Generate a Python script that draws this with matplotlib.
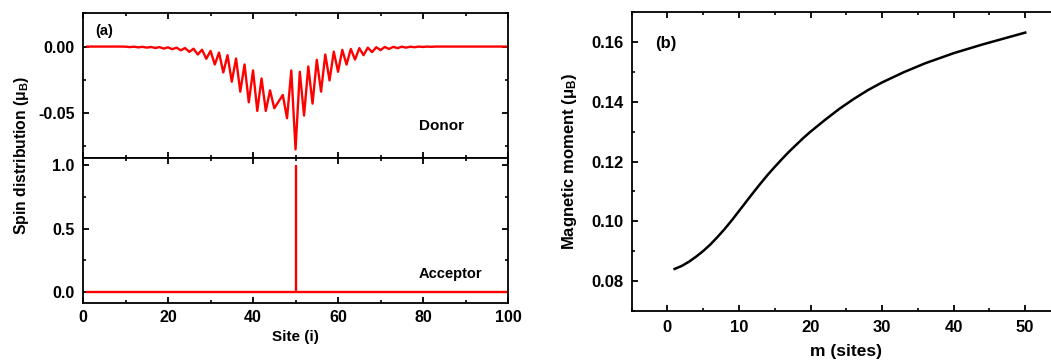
"""
plot.py

Spin distribution (donor / acceptor) and magnetic moment vs. m
"""

import numpy as np
import matplotlib
matplotlib.use("Agg")
import matplotlib.pyplot as plt
from matplotlib.ticker import MultipleLocator


# ==========================
# 1. Data
# ==========================

SITES = list(range(1, 101))

DONOR_SPIN = [
    0.0, 0.0, 0.0, 0.0, 0.0, 0.0, 0.0, 0.0, 0.0, -0.0001,
    -0.0004, -0.0001, -0.0006, -0.0002, -0.0008, -0.0003, -0.0011, -0.0004, -0.0015, -0.0006,
    -0.0020, -0.0008, -0.0028, -0.0011, -0.0040, -0.0016, -0.0060, -0.0024, -0.0092, -0.0033,
    -0.0135, -0.0045, -0.0195, -0.0065, -0.0265, -0.0090, -0.0340, -0.0135, -0.0420, -0.0180,
    -0.0485, -0.0240, -0.0485, -0.0330, -0.0465, -0.0415, -0.0365, -0.0540, -0.0180, -0.0775,
    -0.0190, -0.0520, -0.0150, -0.0430, -0.0100, -0.0340, -0.0060, -0.0255, -0.0038, -0.0190,
    -0.0025, -0.0136, -0.0018, -0.0098, -0.0012, -0.0065, -0.0008, -0.0042, -0.0005, -0.0027,
    -0.0003, -0.0018, -0.0002, -0.0012, -0.0001, -0.0008, -0.0001, -0.0005, 0.0, -0.0003,
    0.0, -0.0002, 0.0, 0.0, 0.0, 0.0, 0.0, 0.0, 0.0, 0.0,
    0.0, 0.0, 0.0, 0.0, 0.0, 0.0, 0.0, 0.0, 0.0, 0.0,
]

ACCEPTOR_SITE = 50
ACCEPTOR_PEAK = 1.0

M_SITES = [1, 2, 3, 4, 5, 6, 7, 8, 9, 10, 11, 12, 13, 14, 15, 16, 17, 18, 19,
           20, 22, 24, 26, 28, 30, 33, 36, 40, 44, 47, 50]
MAG_MOMENT = [0.0840, 0.0850, 0.0864, 0.0881, 0.0900, 0.0922, 0.0947, 0.0974,
              0.1003, 0.1034, 0.1065, 0.1096, 0.1126, 0.1155, 0.1182, 0.1208,
              0.1233, 0.1256, 0.1279, 0.1300, 0.1339, 0.1376, 0.1409, 0.1439,
              0.1465, 0.1499, 0.1529, 0.1563, 0.1592, 0.1612, 0.1632]


# ==========================
# 2. Style
# ==========================

plt.rcParams["font.family"] = ["Liberation Sans", "DejaVu Sans"]
plt.rcParams["font.weight"] = "bold"
plt.rcParams["axes.linewidth"] = 1.3
plt.rcParams["xtick.direction"] = "in"
plt.rcParams["ytick.direction"] = "in"
plt.rcParams["xtick.top"] = True
plt.rcParams["ytick.right"] = True
plt.rcParams["xtick.major.width"] = 1.3
plt.rcParams["ytick.major.width"] = 1.3
plt.rcParams["xtick.minor.width"] = 1.2
plt.rcParams["ytick.minor.width"] = 1.2
plt.rcParams["xtick.major.size"] = 4
plt.rcParams["ytick.major.size"] = 4
plt.rcParams["xtick.minor.size"] = 2.5
plt.rcParams["ytick.minor.size"] = 2.5
plt.rcParams["mathtext.default"] = "regular"

RED = "#ff0000"


def style_ticks(ax, size):
    for lab in ax.get_xticklabels() + ax.get_yticklabels():
        lab.set_fontweight("bold")
        lab.set_fontsize(size)


# ==========================
# 3. Figure
# ==========================

def main():
    fig = plt.figure(figsize=(10.51, 3.62), dpi=100)

    # ---- (a) donor / acceptor ----
    ax_top = fig.add_axes([0.079, 0.5635, 0.4044, 0.3995])
    ax_bot = fig.add_axes([0.079, 0.163, 0.4044, 0.4005], sharex=ax_top)

    ax_top.plot(SITES, DONOR_SPIN, color=RED, linewidth=1.7)
    ax_top.set_ylim(-0.084, 0.025)
    ax_top.yaxis.set_minor_locator(MultipleLocator(0.025))
    ax_top.set_yticks([0.0, -0.05])
    ax_top.set_yticklabels(["0.00", "-0.05"])
    ax_top.tick_params(labelbottom=False)
    ax_top.text(0.028, 0.93, "(a)", transform=ax_top.transAxes,
                fontsize=10.5, fontweight="bold", va="top")
    ax_top.text(0.79, 0.22, "Donor", transform=ax_top.transAxes,
                fontsize=11, fontweight="bold", va="center")

    # acceptor: flat zero line with a single spike on the acceptor site
    ax_bot.plot(SITES, [0.0] * len(SITES), color=RED, linewidth=1.7)
    ax_bot.vlines(ACCEPTOR_SITE, 0.0, ACCEPTOR_PEAK, color=RED, linewidth=1.7)
    ax_bot.set_ylim(-0.087, 1.056)
    ax_bot.set_yticks([0.0, 0.5, 1.0])
    ax_bot.set_yticklabels(["0.0", "0.5", "1.0"])
    ax_bot.yaxis.set_minor_locator(MultipleLocator(0.25))
    ax_bot.set_xlim(0, 100)
    ax_bot.xaxis.set_major_locator(MultipleLocator(20))
    ax_bot.xaxis.set_minor_locator(MultipleLocator(10))
    ax_bot.set_xlabel("Site (i)", fontsize=11, fontweight="bold", labelpad=4)
    ax_bot.text(0.79, 0.2, "Acceptor", transform=ax_bot.transAxes,
                fontsize=10.5, fontweight="bold", va="center")

    style_ticks(ax_top, 11.5)
    style_ticks(ax_bot, 11.5)
    ax_top.tick_params(axis="y", pad=6)
    ax_bot.tick_params(axis="y", pad=6)
    ax_bot.tick_params(axis="x", pad=5)

    fig.text(0.02, 0.57, "Spin distribution (μ$_{B}$)", rotation=90,
             fontsize=11.3, fontweight="bold", ha="center", va="center")

    # ---- (b) magnetic moment ----
    ax_r = fig.add_axes([0.601, 0.1417, 0.4085, 0.8243])
    ax_r.plot(M_SITES, MAG_MOMENT, color="black", linewidth=1.8)
    ax_r.set_xlim(-5, 55)
    ax_r.set_ylim(0.07, 0.17)
    ax_r.xaxis.set_major_locator(MultipleLocator(10))
    ax_r.xaxis.set_minor_locator(MultipleLocator(5))
    ax_r.set_yticks([0.08, 0.10, 0.12, 0.14, 0.16])
    ax_r.set_yticklabels(["0.08", "0.10", "0.12", "0.14", "0.16"])
    ax_r.yaxis.set_minor_locator(MultipleLocator(0.01))
    ax_r.set_xlabel("m (sites)", fontsize=12.5, fontweight="bold", labelpad=6)
    ax_r.set_ylabel("Magnetic moment (μ$_{B}$)", fontsize=12,
                    fontweight="bold", labelpad=9)
    ax_r.text(0.055, 0.897, "(b)", transform=ax_r.transAxes,
              fontsize=12, fontweight="bold", va="center")
    style_ticks(ax_r, 12)
    ax_r.tick_params(axis="x", pad=7)
    ax_r.tick_params(axis="y", pad=6)

    fig.savefig("out.png", dpi=100)
    plt.close(fig)


if __name__ == "__main__":
    main()
